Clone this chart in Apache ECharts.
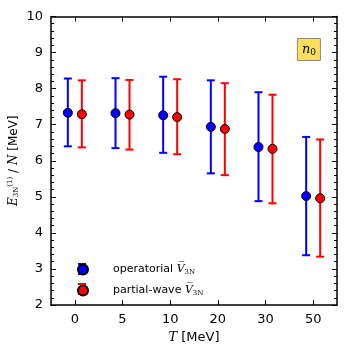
<!DOCTYPE html>
<html>
<head>
<meta charset="utf-8">
<script src="https://cdn.jsdelivr.net/npm/echarts@6/dist/echarts.min.js"></script>
<style>
  html, body { margin: 0; padding: 0; background: #fff; }
  #chart { width: 347px; height: 347px; }
</style>
</head>
<body>
<div id="chart"></div>
<script>
// temperatures (category axis)
var tempLabels = ['0', '5', '10', '20', '30', '50'];

// operatorial V3N
var opCenter = [7.33, 7.32, 7.26, 6.94, 6.38, 5.02];
var opLow = [6.40, 6.35, 6.22, 5.65, 4.88, 3.38];
var opHigh = [8.28, 8.29, 8.33, 8.23, 7.90, 6.66];

// partial-wave V3N
var pwCenter = [7.29, 7.28, 7.21, 6.88, 6.33, 4.96];
var pwLow = [6.37, 6.31, 6.18, 5.60, 4.82, 3.34];
var pwHigh = [8.23, 8.24, 8.26, 8.15, 7.83, 6.59];

var BLUE = '#0000ff';
var RED = '#ff0000';
var FONT = 'DejaVu Sans';

function errData(low, high) {
  return low.map(function (l, i) { return [i, l, high[i]]; });
}

function errorBarRender(dx, color) {
  return function (params, api) {
    var i = api.value(0);
    var lo = api.coord([i, api.value(1)]);
    var hi = api.coord([i, api.value(2)]);
    var x = lo[0] + dx;
    var cap = 4;
    var style = { stroke: color, lineWidth: 2 };
    return {
      type: 'group',
      children: [
        { type: 'line', shape: { x1: x, y1: lo[1], x2: x, y2: hi[1] }, style: style },
        { type: 'line', shape: { x1: x - cap, y1: lo[1], x2: x + cap, y2: lo[1] }, style: style },
        { type: 'line', shape: { x1: x - cap, y1: hi[1], x2: x + cap, y2: hi[1] }, style: style }
      ]
    };
  };
}

var chart = echarts.init(document.getElementById('chart'));

var axisLine = { show: true, lineStyle: { color: '#000', width: 1.5 } };
var tick = { show: true, inside: true, length: 5, lineStyle: { color: '#000', width: 1 } };

chart.setOption({
  animation: false,
  textStyle: { fontFamily: FONT },
  grid: { left: 51, right: 10, top: 16.5, bottom: 42, outerBoundsMode: 'none', containLabel: false },
  title: {
    text: '{n|n}{s|0}',
    right: 26,
    top: 37,
    backgroundColor: '#ffdf5a',
    borderColor: '#8a8a7a',
    borderWidth: 1,
    padding: [5, 5, 4, 5],
    textStyle: {
      fontWeight: 'normal',
      rich: {
        n: { fontFamily: 'DejaVu Serif', fontStyle: 'italic', fontWeight: 'normal', fontSize: 13, color: '#000' },
        s: { fontFamily: 'DejaVu Serif', fontWeight: 'normal', fontSize: 9, color: '#000', verticalAlign: 'bottom', padding: [6, 0, 0, 0] }
      }
    }
  },
  legend: {
    orient: 'vertical',
    left: 77,
    top: 263.5,
    padding: 0,
    itemWidth: 10,
    itemHeight: 10,
    itemGap: 9,
    icon: 'circle',
    data: ['operatorial', 'partial-wave'],
    formatter: function (name) {
      return name + ' {v|V\u0305}{s|3N}';
    },
    textStyle: {
      fontSize: 11,
      color: '#000',
      padding: [0, 0, 0, 20],
      rich: {
        v: { fontFamily: 'DejaVu Serif', fontStyle: 'italic', fontSize: 11, color: '#000' },
        s: { fontFamily: 'DejaVu Serif', fontSize: 7, color: '#000', verticalAlign: 'bottom', padding: [5, 0, 0, 0] }
      }
    }
  },
  xAxis: [
    {
      type: 'category',
      data: tempLabels,
      boundaryGap: true,
      axisLine: axisLine,
      axisTick: { show: true, inside: true, length: 5, alignWithLabel: true, lineStyle: { color: '#000' } },
      axisLabel: { color: '#000', fontSize: 13, margin: 8 },
      name: '{i|T} [MeV]',
      nameLocation: 'middle',
      nameGap: 26,
      nameTextStyle: {
        color: '#000',
        fontSize: 13,
        rich: { i: { fontFamily: 'DejaVu Serif', fontStyle: 'italic', fontSize: 13, color: '#000' } }
      },
      splitLine: { show: false }
    },
    {
      type: 'category',
      position: 'top',
      data: tempLabels,
      boundaryGap: true,
      axisLine: axisLine,
      axisTick: { show: true, inside: true, length: 5, alignWithLabel: true, lineStyle: { color: '#000' } },
      axisLabel: { show: false },
      splitLine: { show: false }
    }
  ],
  yAxis: [
    {
      type: 'value',
      min: 2,
      max: 10,
      interval: 1,
      axisLine: axisLine,
      axisTick: tick,
      minorTick: { show: true, splitNumber: 5, length: 3, lineStyle: { color: '#000' } },
      axisLabel: { color: '#000', fontSize: 13, margin: 8 },
      splitLine: { show: false },
      name: '{i|E}{sub|3N}{sup|(1)} / {i|N} [MeV]',
      nameLocation: 'middle',
      nameGap: 31,
      nameMoveOverlap: false,
      nameRotate: 90,
      nameTextStyle: {
        color: '#000',
        fontSize: 12,
        rich: {
          i: { fontFamily: 'DejaVu Serif', fontStyle: 'italic', fontSize: 12, color: '#000' },
          sub: { fontFamily: 'DejaVu Serif', fontSize: 7, color: '#000', verticalAlign: 'bottom', padding: [6, 0, 0, 0] },
          sup: { fontFamily: 'DejaVu Serif', fontSize: 7, color: '#000', verticalAlign: 'top', padding: [0, 0, 6, 0] }
        }
      }
    },
    {
      type: 'value',
      position: 'right',
      min: 2,
      max: 10,
      interval: 1,
      axisLine: axisLine,
      axisTick: tick,
      minorTick: { show: true, splitNumber: 5, length: 3, lineStyle: { color: '#000' } },
      axisLabel: { show: false },
      splitLine: { show: false }
    }
  ],
  series: [
    {
      name: 'operatorial-err',
      type: 'custom',
      renderItem: errorBarRender(-7, BLUE),
      encode: { x: 0, y: [1, 2] },
      data: errData(opLow, opHigh),
      z: 2
    },
    {
      name: 'partial-wave-err',
      type: 'custom',
      renderItem: errorBarRender(7, RED),
      encode: { x: 0, y: [1, 2] },
      data: errData(pwLow, pwHigh),
      z: 2
    },
    {
      name: 'operatorial',
      type: 'scatter',
      data: opCenter,
      symbol: 'circle',
      symbolSize: 9,
      symbolOffset: [-7, 0],
      itemStyle: { color: BLUE, borderColor: '#000', borderWidth: 1, opacity: 1 },
      z: 3
    },
    {
      name: 'partial-wave',
      type: 'scatter',
      data: pwCenter,
      symbol: 'circle',
      symbolSize: 9,
      symbolOffset: [7, 0],
      itemStyle: { color: RED, borderColor: '#000', borderWidth: 1, opacity: 1 },
      z: 3
    }
  ],
  graphic: [
    // error-bar glyphs behind the legend markers
    { type: 'line', shape: { x1: 82, y1: 264, x2: 82, y2: 274 }, style: { stroke: BLUE, lineWidth: 2 }, z: 0 },
    { type: 'line', shape: { x1: 78, y1: 264, x2: 86, y2: 264 }, style: { stroke: BLUE, lineWidth: 2 }, z: 0 },
    { type: 'line', shape: { x1: 78, y1: 274, x2: 86, y2: 274 }, style: { stroke: BLUE, lineWidth: 2 }, z: 0 },
    { type: 'line', shape: { x1: 82, y1: 284, x2: 82, y2: 294 }, style: { stroke: RED, lineWidth: 2 }, z: 0 },
    { type: 'line', shape: { x1: 78, y1: 284, x2: 86, y2: 284 }, style: { stroke: RED, lineWidth: 2 }, z: 0 },
    { type: 'line', shape: { x1: 78, y1: 294, x2: 86, y2: 294 }, style: { stroke: RED, lineWidth: 2 }, z: 0 }
  ]
});
</script>
</body>
</html>
